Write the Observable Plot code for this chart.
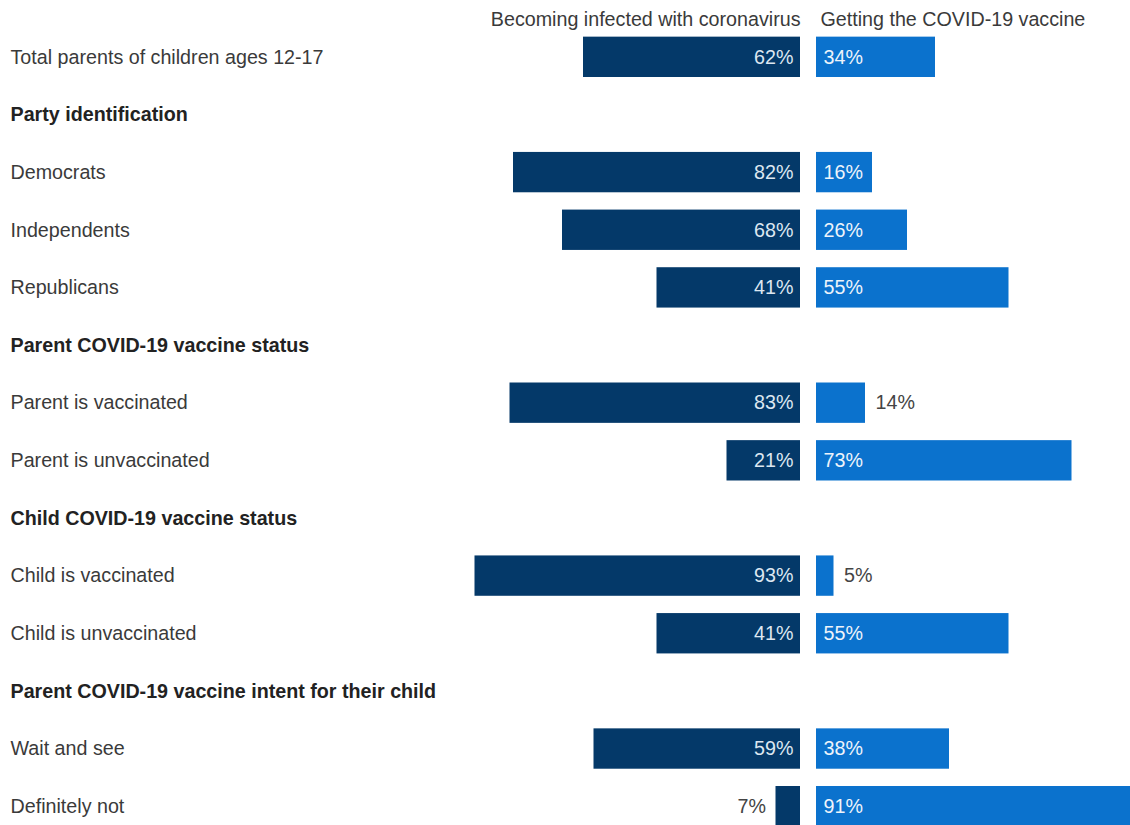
<!DOCTYPE html>
<html>
<head>
<meta charset="utf-8">
<script src="https://cdn.jsdelivr.net/npm/d3@7"></script>
<script src="https://cdn.jsdelivr.net/npm/@observablehq/plot@0.6"></script>
<style>
  html, body { margin: 0; padding: 0; background: #fff; overflow: hidden; }
  #chart svg { display: block; }
</style>
</head>
<body>
<div id="chart"></div>
<script>
// ---- data ----
const seriesNames = ["Becoming infected with coronavirus", "Getting the COVID-19 vaccine"];
const rowLabels = [
  "Total parents of children ages 12-17",
  "Party identification",
  "Democrats",
  "Independents",
  "Republicans",
  "Parent COVID-19 vaccine status",
  "Parent is vaccinated",
  "Parent is unvaccinated",
  "Child COVID-19 vaccine status",
  "Child is vaccinated",
  "Child is unvaccinated",
  "Parent COVID-19 vaccine intent for their child",
  "Wait and see",
  "Definitely not"
];
const headerRows = [
  "Party identification",
  "Parent COVID-19 vaccine status",
  "Child COVID-19 vaccine status",
  "Parent COVID-19 vaccine intent for their child"
];
const categories = [
  "Total parents of children ages 12-17",
  "Democrats", "Independents", "Republicans",
  "Parent is vaccinated", "Parent is unvaccinated",
  "Child is vaccinated", "Child is unvaccinated",
  "Wait and see", "Definitely not"
];
const infected = [62, 82, 68, 41, 83, 21, 93, 41, 59, 7];
const vaccine  = [34, 16, 26, 55, 14, 73, 5, 55, 38, 91];

// ---- build table ----
const data = categories.map((c, i) => ({label: c, infected: infected[i], vaccine: vaccine[i]}));
const rowsTable = rowLabels.map(r => ({label: r, header: headerRows.includes(r)}));

const darkBlue = "#043969";
const blue = "#0b72cd";
const textColor = "#3a3a3a";
const gap = 16;        // px gap between the two sides
const pxPerPct = 3.5;
const zeroPx = 800;
const W = 1130;
const small = 15;
const fs = 19.7;

const chart = Plot.plot({
  width: W,
  height: 835,
  marginTop: 28,
  marginBottom: 0,
  marginLeft: 0,
  marginRight: 0,
  style: {fontFamily: "'Liberation Sans', Arial, Helvetica, sans-serif", fontSize: fs + "px", background: "#fff"},
  x: {domain: [-zeroPx / pxPerPct, (W - zeroPx) / pxPerPct], axis: null},
  y: {domain: rowLabels, axis: null, paddingInner: 0.3, paddingOuter: 0.15, round: false},
  marks: [
    // row labels
    Plot.text(rowsTable.filter(d => !d.header), {y: "label", text: "label", frameAnchor: "left", dx: 10, textAnchor: "start", fill: textColor, fontSize: fs}),
    Plot.text(rowsTable.filter(d => d.header), {y: "label", text: "label", frameAnchor: "left", dx: 10, textAnchor: "start", fill: "#222", fontWeight: "bold", fontSize: fs}),
    // column headers
    Plot.text([seriesNames[0]], {x: 0, frameAnchor: "top", dy: -17, text: d => d, textAnchor: "end", fill: textColor, fontSize: fs}),
    Plot.text([seriesNames[1]], {x: 0, frameAnchor: "top", dy: -17, dx: gap + 4, text: d => d, textAnchor: "start", fill: textColor, fontSize: fs}),
    // bars
    Plot.barX(data, {y: "label", x1: d => -d.infected, x2: 0, fill: darkBlue}),
    Plot.barX(data, {y: "label", x1: 0, x2: "vaccine", dx: gap, fill: blue}),
    // value labels left
    Plot.text(data.filter(d => d.infected >= small), {y: "label", x: 0, dx: -7, text: d => d.infected + "%", textAnchor: "end", fill: "#dde7f1", fontSize: fs}),
    Plot.text(data.filter(d => d.infected < small), {y: "label", x: d => -d.infected, dx: -10, text: d => d.infected + "%", textAnchor: "end", fill: "#444", fontSize: fs}),
    // value labels right
    Plot.text(data.filter(d => d.vaccine >= small), {y: "label", x: 0, dx: gap + 7, text: d => d.vaccine + "%", textAnchor: "start", fill: "#eef4fb", fontSize: fs}),
    Plot.text(data.filter(d => d.vaccine < small), {y: "label", x: "vaccine", dx: gap + 10, text: d => d.vaccine + "%", textAnchor: "start", fill: "#444", fontSize: fs})
  ]
});
document.getElementById("chart").append(chart);
</script>
</body>
</html>
